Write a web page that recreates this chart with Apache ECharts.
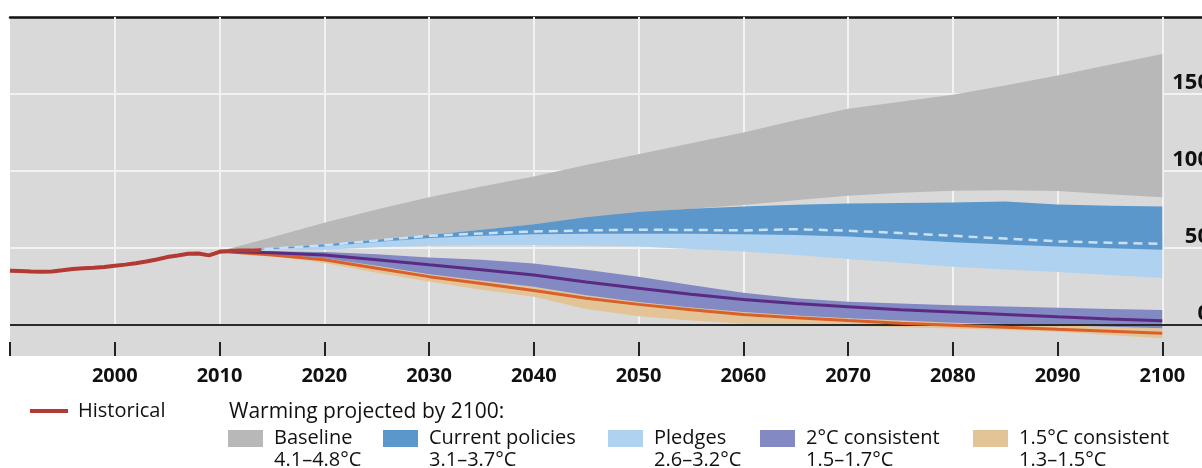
<!DOCTYPE html>
<html>
<head>
<meta charset="utf-8">
<script src="https://cdn.jsdelivr.net/npm/echarts@6/dist/echarts.min.js"></script>
<style>
html,body{margin:0;padding:0;background:#fff;}
#chart{width:1202px;height:468px;}
</style>
</head>
<body>
<div id="chart"></div>
<script>
// ---------- DATA ----------
const histYears = [1990,1991,1992,1993,1994,1995,1996,1997,1998,1999,2000,2001,2002,2003,2004,2005,2006,2007,2008,2009,2010,2011,2012,2013,2014];
const histValues = [35.4,35.1,34.8,34.7,34.8,35.6,36.5,37.0,37.3,37.8,38.6,39.3,40.2,41.3,42.6,44.2,45.2,46.3,46.5,45.3,47.6,48.2,48.4,48.5,48.6];

const projYears = [2010,2015,2020,2025,2030,2035,2040,2045,2050,2055,2060,2065,2070,2075,2080,2085,2090,2095,2100];

const baselineLow  = [48,50,52.5,55.5,58.5,62,65.5,69.5,73,75.5,78,81,84,86,87.2,87.5,87,85,83];
const baselineHigh = [48,57,66.5,75,83,90,96.5,104,111,118,125,133,140.5,145,149.5,155.5,162,169,176];

const currentLow   = [48,49.5,51,54,56.5,58,59,59.3,59.4,59.3,59,58.5,57.6,55.8,53.8,52.3,51,50,49];
const currentHigh  = [48,50,52.5,55.5,58.5,62,65.5,70,73.5,75.5,77,78.2,79,79.3,79.6,80.2,78.3,77.5,77];

const pledgesLow   = [48,48.5,49,50.5,51.5,52,52,51.7,51,49.5,47.8,45.5,43,40.5,38,36.2,34.5,32.5,30.6];
const pledgesHigh  = [48,50,52.5,55.5,58.5,61.5,63,64,65,65.5,65.5,65.5,65.5,64.5,63,62,60.5,59.5,58.5];
const pledgesMid   = [48,49.7,51.8,55,58,59.5,60.8,61.5,62,61.8,61.5,62.3,61.3,59.8,58,56.2,54.4,53.5,52.8];

const twoLow  = [48,46,43.5,38.5,33,29,25,19.5,15,11.5,8.5,6.3,4.5,3,1.5,0.7,0,-1,-2];
const twoHigh = [48,48,47.5,46,44,42.5,40,36,31.5,26,21,17.5,15.2,14,13,12.2,11.3,10.5,9.8];
const twoMid  = [48,47,45.6,42.5,39.2,36,32.5,28,24,20,16.7,14,12,10,8.5,7,5.4,4,2.8];

const oneFiveLow  = [48,45,40.4,34,28.3,23,18.5,10.5,5.8,3,1,0.2,-0.4,-1.3,-2.2,-3.2,-4.3,-6.3,-8.5];
const oneFiveHigh = [48,46,43.5,38.5,33,29,25,19.5,15,11.5,8.5,6.3,4.5,3,1.5,0.7,0,-1,-2];
const oneFiveMid  = [48,45.5,42.4,37,31.5,27,22.5,17.5,13.5,10,7,4.8,3,1.3,0,-1.3,-2.7,-4,-5.3];

const xTickLabels = [2000,2010,2020,2030,2040,2050,2060,2070,2080,2090,2100];
const yTickLabels = [0,50,100,150];

const bandNames  = ['Baseline','Current policies','Pledges','2°C consistent','1.5°C consistent'];
const bandRanges = ['4.1–4.8°C','3.1–3.7°C','2.6–3.2°C','1.5–1.7°C','1.3–1.5°C'];
const histName = 'Historical';
const legendTitle = 'Warming projected by 2100:';

// ---------- STYLE / LAYOUT ----------
const FONT = '"Open Sans", "Noto Sans", sans-serif';
const C = {
  bg:'#d9d9d9', grid:'#f2f2f2', zero:'#2a2a2a',
  baseline:'#b8b8b8', current:'#5b97cb', pledges:'#aed2f0',
  two:'#8289c3', oneFive:'#e3c496',
  twoLine:'#5b2b84', oneFiveLine:'#d9602a', hist:'#b23a32', pledgeDash:'#c9e1f5'
};
const legendSwatchX = [228, 383, 608, 760, 973];
const legendTextGap = 46;

const pairs = (xs, ys) => xs.map((x, i) => [x, ys[i]]);

function band(name, low, high, color) {
  return {
    name: name, type: 'custom', coordinateSystem: 'cartesian2d', clip: true,
    color: color, itemStyle: { color: color }, silent: true, z: 2,
    data: projYears.map((yr, i) => [yr, low[i], high[i]]),
    encode: { x: 0, y: [1, 2] },
    renderItem: function (params, api) {
      if (params.dataIndex !== 0) return null;
      const pts = [];
      for (let i = 0; i < projYears.length; i++) pts.push(api.coord([projYears[i], high[i]]));
      for (let i = projYears.length - 1; i >= 0; i--) pts.push(api.coord([projYears[i], low[i]]));
      return { type: 'polygon', shape: { points: pts }, style: { fill: color, stroke: null } };
    }
  };
}

const series = [];
// gridlines (under everything)
series.push({
  name: 'gridlines', type: 'line', data: [], silent: true, z: 1,
  markLine: {
    silent: true, symbol: 'none', z: 1, animation: false,
    label: { show: false },
    lineStyle: { color: C.grid, width: 2, type: 'solid' },
    data: yTickLabels.filter(v => v !== 0).map(v => ({ yAxis: v }))
      .concat(xTickLabels.map(x => [{ coord: [x, 0] }, { coord: [x, 200] }]))
  }
});
series.push(band(bandNames[0], baselineLow, baselineHigh, C.baseline));
series.push(band(bandNames[2], pledgesLow, pledgesHigh, C.pledges));
series.push(band(bandNames[1], currentLow, currentHigh, C.current));
series.push({ name: 'Pledges median', type: 'line', data: pairs(projYears, pledgesMid), symbol: 'none',
  lineStyle: { color: C.pledgeDash, width: 2.5, type: [9, 6] }, z: 4, silent: true });
series.push(band(bandNames[4], oneFiveLow, oneFiveHigh, C.oneFive));
series.push(band(bandNames[3], twoLow, twoHigh, C.two));
// zero line above bands
series.push({
  name: 'zeroline', type: 'line', data: [], silent: true, z: 3,
  markLine: { silent: true, symbol: 'none', z: 3, animation: false, label: { show: false },
    lineStyle: { color: C.zero, width: 2, type: 'solid' }, data: [{ yAxis: 0 }] }
});
series.push({ name: '1.5 median', type: 'line', data: pairs(projYears, oneFiveMid), symbol: 'none',
  lineStyle: { color: C.oneFiveLine, width: 3 }, z: 4, silent: true });
series.push({ name: '2 median', type: 'line', data: pairs(projYears, twoMid), symbol: 'none',
  lineStyle: { color: C.twoLine, width: 3 }, z: 4, silent: true });
series.push({ name: histName, type: 'line', data: pairs(histYears, histValues), symbol: 'none',
  color: C.hist, itemStyle: { color: C.hist }, lineStyle: { color: C.hist, width: 4 }, z: 5, silent: true });

const legendText = { fontSize: 20, fontFamily: FONT, color: '#111', lineHeight: 22 };
const legends = [{
  data: [histName], left: 30 - 5, top: 400 - 5, icon: 'rect', itemWidth: 38, itemHeight: 4,
  itemStyle: { borderWidth: 0 }, selectedMode: false,
  textStyle: Object.assign({}, legendText, { padding: [0, 0, 0, 5] })
}].concat(bandNames.map((n, i) => ({
  data: [n], left: legendSwatchX[i] - 5, top: 427.5 - 5, icon: 'rect', itemWidth: 35, itemHeight: 17,
  itemStyle: { borderWidth: 0 }, selectedMode: false,
  textStyle: Object.assign({}, legendText, { padding: [0, 0, 0, legendTextGap - 40] })
})));

const graphics = [{
  type: 'text', x: 229, y: 412, silent: true,
  style: { text: legendTitle, fontSize: 21, fontFamily: FONT, fill: '#111', verticalAlign: 'middle' }
}].concat(bandRanges.map((t, i) => ({
  type: 'text', x: legendSwatchX[i] + legendTextGap, y: 460, silent: true,
  style: { text: t, fontSize: 20, fontFamily: FONT, fill: '#111', verticalAlign: 'middle' }
})));

const chart = echarts.init(document.getElementById('chart'), null, { renderer: 'canvas' });
chart.setOption({
  animation: false,
  backgroundColor: '#ffffff',
  grid: { left: 10, top: 17, width: 1257, height: 339, show: true, backgroundColor: C.bg, borderWidth: 0,
    containLabel: false, outerBoundsMode: 'none' },
  xAxis: [{
    type: 'value', min: 1990, max: 2110, interval: 10, position: 'bottom',
    axisLine: { show: false, onZero: false },
    axisTick: { show: true, inside: true, length: 14, lineStyle: { color: '#222', width: 2 } },
    axisLabel: { margin: 10, fontSize: 20, fontWeight: 'bold', fontFamily: FONT, color: '#111',
      formatter: v => xTickLabels.indexOf(v) >= 0 ? String(v) : '' },
    splitLine: { show: false }
  }, {
    type: 'value', min: 1990, max: 2110, position: 'top',
    axisLine: { show: true, onZero: false, lineStyle: { color: '#111', width: 2.5 } },
    axisTick: { show: false }, axisLabel: { show: false }, splitLine: { show: false }
  }],
  yAxis: {
    type: 'value', min: -20, max: 200, interval: 10, position: 'right', offset: -57,
    axisLine: { show: false, onZero: false }, axisTick: { show: false }, splitLine: { show: false },
    axisLabel: { inside: true, margin: 0, align: 'right', verticalAlign: 'bottom',
      fontSize: 22, fontWeight: 'bold', fontFamily: FONT, color: '#111',
      formatter: v => yTickLabels.indexOf(v) >= 0 ? String(v) : '' }
  },
  legend: legends,
  graphic: graphics,
  series: series
});
</script>
</body>
</html>
